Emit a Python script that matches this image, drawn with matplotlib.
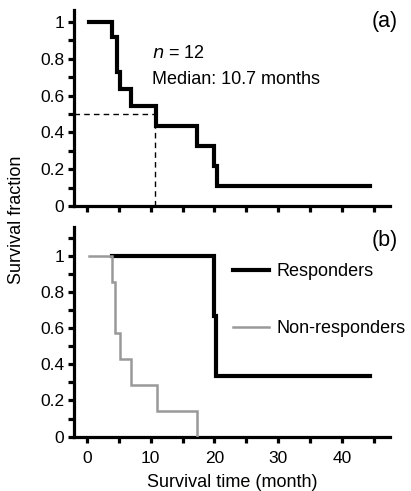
import matplotlib
matplotlib.use("Agg")
import matplotlib.pyplot as plt
from matplotlib.ticker import MultipleLocator, FixedLocator, FixedFormatter

plt.rcParams['font.family'] = ['Liberation Sans', 'DejaVu Sans']

# ---- data ----
a_times = [0.3, 4.0, 4.8, 5.2, 7.0, 10.8, 17.2, 19.9, 20.4, 44.3]
a_surv = [1.0, 0.917, 0.727, 0.636, 0.545, 0.436, 0.327, 0.218, 0.109, 0.109]
median_time = 10.7
median_surv = 0.5

resp_times = [4.0, 20.0, 20.3, 44.3]
resp_surv = [1.0, 0.667, 0.333, 0.333]

nonresp_times = [0.3, 4.0, 4.5, 5.2, 7.0, 11.0, 17.2]
nonresp_surv = [1.0, 0.857, 0.571, 0.429, 0.286, 0.143, 0.0]

x_ticks = [0, 10, 20, 30, 40]
y_ticks = [0, 0.2, 0.4, 0.6, 0.8, 1.0]
y_labels = ['0', '0.2', '0.4', '0.6', '0.8', '1']

W, H = 411, 491
fig = plt.figure(figsize=(W / 100, H / 100), dpi=100)

left = 74 / W
width = (390 - 74) / W
ax_a = fig.add_axes([left, (H - 206) / H, width, (206 - 10) / H])
ax_b = fig.add_axes([left, (H - 436.7) / H, width, (436.7 - 226.7) / H])

XLIM = (-2.0, 47.5)

def style(ax, ytop, show_xlabels):
    ax.set_xlim(*XLIM)
    ax.set_ylim(0, ytop)
    for s in ['top', 'right']:
        ax.spines[s].set_visible(False)
    for s in ['left', 'bottom']:
        ax.spines[s].set_linewidth(2.3)
    ax.xaxis.set_major_locator(FixedLocator(x_ticks))
    ax.xaxis.set_minor_locator(MultipleLocator(5))
    ax.yaxis.set_major_locator(FixedLocator(y_ticks))
    ax.yaxis.set_major_formatter(FixedFormatter(y_labels))
    ax.yaxis.set_minor_locator(MultipleLocator(0.1))
    ax.tick_params(axis='both', which='both', direction='out', width=2.3,
                   length=4, labelsize=12.5, color='black')
    ax.tick_params(axis='x', which='major', pad=6)
    ax.tick_params(axis='y', which='major', pad=3)
    if not show_xlabels:
        ax.tick_params(axis='x', which='both', labelbottom=False)

style(ax_a, 1.065, False)
style(ax_b, 1.16, True)

# ---- panel (a) ----
ax_a.step(a_times, a_surv, where='post', color='black', lw=3.0,
          solid_joinstyle='miter', zorder=3)
ax_a.plot([XLIM[0], median_time], [median_surv, median_surv], color='black',
          lw=1.0, ls=(0, (4, 3)), zorder=2)
ax_a.plot([median_time, median_time], [0, median_surv], color='black',
          lw=1.0, ls=(0, (4, 3)), zorder=2)
ax_a.text(10.2, 0.83, r'$n$ = 12', fontsize=13, va='center', ha='left')
ax_a.text(10.2, 0.685, 'Median: 10.7 months', fontsize=13, va='center', ha='left')
ax_a.text(46.7, 1.0, '(a)', fontsize=15.5, va='center', ha='center')

# ---- panel (b) ----
ax_b.step(nonresp_times, nonresp_surv, where='post', color='#999999', lw=1.8,
          solid_joinstyle='miter', zorder=3, label='Non-responders')
ax_b.step(resp_times, resp_surv, where='post', color='black', lw=3.0,
          solid_joinstyle='miter', zorder=2, label='Responders')
handles, labels = ax_b.get_legend_handles_labels()
ax_b.legend(handles[::-1], labels[::-1], loc='upper left',
            bbox_to_anchor=(0.503, 0.825), frameon=False, fontsize=13,
            handlelength=2.0, handletextpad=0.4, labelspacing=2.2,
            borderaxespad=0, borderpad=0)
ax_b.text(46.7, 1.083, '(b)', fontsize=15.5, va='center', ha='center')
ax_b.set_xlabel('Survival time (month)', fontsize=13, labelpad=6)

fig.text(17 / W, (H - 220) / H, 'Survival fraction', rotation=90,
         fontsize=13, ha='center', va='center')

fig.savefig('out.png', dpi=100)
